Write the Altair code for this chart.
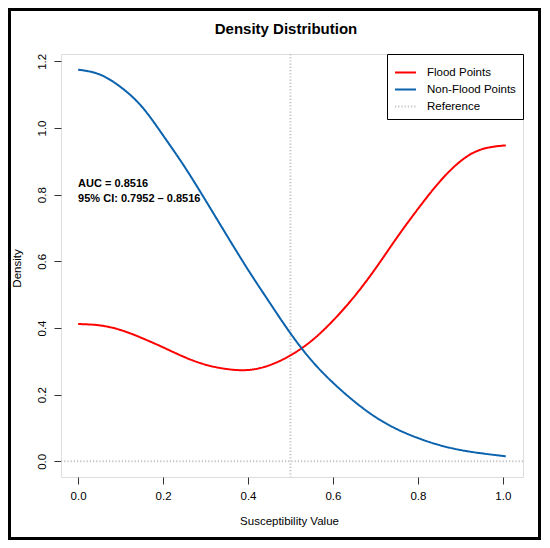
import altair as alt
import pandas as pd

# ---- data ----
x_vals = [0.0, 0.05, 0.10, 0.15, 0.20, 0.25, 0.30, 0.35, 0.40, 0.45, 0.50,
          0.55, 0.60, 0.65, 0.70, 0.75, 0.80, 0.85, 0.90, 0.95, 1.007]
flood = [0.412, 0.408, 0.394, 0.370, 0.342, 0.313, 0.290, 0.277, 0.274, 0.288, 0.318,
         0.362, 0.422, 0.494, 0.578, 0.670, 0.757, 0.837, 0.900, 0.936, 0.948]
nonflood = [1.175, 1.161, 1.123, 1.064, 0.978, 0.885, 0.783, 0.678, 0.575, 0.478, 0.384,
            0.302, 0.236, 0.180, 0.133, 0.097, 0.070, 0.049, 0.034, 0.024, 0.015]
series_names = ["Flood Points", "Non-Flood Points", "Reference"]
series_colors = ["#ff0000", "#0b62ad", "#c4c4c4"]
x_ticks = [0.0, 0.2, 0.4, 0.6, 0.8, 1.0]
y_ticks = [0.0, 0.2, 0.4, 0.6, 0.8, 1.0, 1.2]
ref_x = [0.5]
ref_y = [0.0]
ann_text = ["AUC = 0.8516", "95% CI: 0.7952 \u2013 0.8516"]
ann_x = [0.0, 0.0]
ann_y = [0.832, 0.787]

FONT = "Liberation Sans"

curves = pd.DataFrame({
    "x": x_vals + x_vals,
    "y": flood + nonflood,
    "series": [series_names[0]] * len(x_vals) + [series_names[1]] * len(x_vals),
})
vref = pd.DataFrame({"x": ref_x, "series": [series_names[2]] * len(ref_x)})
href = pd.DataFrame({"y": ref_y, "series": [series_names[2]] * len(ref_y)})
ann = pd.DataFrame({"x": ann_x, "y": ann_y, "text": ann_text})

xscale = alt.Scale(domain=[-0.0403, 1.0475], nice=False, zero=False)
yscale = alt.Scale(domain=[-0.047, 1.222], nice=False, zero=False)

xaxis = alt.Axis(values=x_ticks, format=".1f", grid=False, domain=False,
                 tickSize=7, tickColor="#333333", labelPadding=6,
                 labelFontSize=11.5, labelFont=FONT, labelColor="black",
                 labelFlush=False, labelOverlap=False,
                 title="Susceptibility Value", titleFont=FONT, titleFontSize=11.5,
                 titleFontWeight="normal", titleColor="black",
                 titleX=228, titleY=44, titleAlign="center", titleBaseline="middle")
yaxis = alt.Axis(values=y_ticks, format=".1f", grid=False, domain=False,
                 tickSize=7, tickColor="#333333", labelPadding=7,
                 labelAngle=270, labelAlign="center", labelBaseline="bottom",
                 labelFontSize=11.5, labelFont=FONT, labelColor="black",
                 labelFlush=False, labelOverlap=False,
                 title="Density", titleFont=FONT, titleFontSize=11.5,
                 titleFontWeight="normal", titleColor="black",
                 titleX=-44, titleY=214, titleAngle=270, titleAlign="center",
                 titleBaseline="middle")

legend = alt.Legend(title=None, orient="top-right", offset=0,
                    strokeColor="black", fillColor="white", padding=7,
                    labelFont=FONT, labelFontSize=11.5, labelColor="black",
                    symbolType="stroke", symbolSize=441, labelOffset=10,
                    rowPadding=0)

color = alt.Color("series:N", scale=alt.Scale(domain=series_names, range=series_colors),
                  legend=legend)
dash = alt.StrokeDash("series:N", scale=alt.Scale(domain=series_names,
                      range=[[1, 0], [1, 0], [1.2, 2]]), legend=legend)
width = alt.StrokeWidth("series:N", scale=alt.Scale(domain=series_names,
                        range=[2, 2, 1]), legend=legend)

lines = alt.Chart(curves).mark_line(interpolate="natural").encode(
    x=alt.X("x:Q", scale=xscale, axis=xaxis),
    y=alt.Y("y:Q", scale=yscale, axis=yaxis),
    color=color, strokeDash=dash, strokeWidth=width,
    detail="series:N",
)

vrule = alt.Chart(vref).mark_rule().encode(
    x=alt.X("x:Q", scale=xscale), color=color, strokeDash=dash, strokeWidth=width)
hrule = alt.Chart(href).mark_rule().encode(
    y=alt.Y("y:Q", scale=yscale), color=color, strokeDash=dash, strokeWidth=width)

text = alt.Chart(ann).mark_text(align="left", baseline="middle", fontWeight="bold",
                                fontSize=11, font=FONT, color="black").encode(
    x=alt.X("x:Q", scale=xscale), y=alt.Y("y:Q", scale=yscale), text="text:N")

frame = alt.Chart(pd.DataFrame({"k": [0]})).mark_rect(
    fill=None, stroke="black", strokeWidth=3).encode(
    x=alt.value(-51.5), x2=alt.value(478.5), y=alt.value(-44.5), y2=alt.value(484.5))

chart = alt.layer(vrule, hrule, lines, text, frame).properties(
    width=462, height=423,
    autosize=alt.AutoSizeParams(type="none"),
    padding={"left": 53, "top": 46, "right": 18, "bottom": 63},
    title=alt.TitleParams("Density Distribution", font=FONT, fontSize=15,
                          fontWeight="bold", color="black", offset=-44,
                          baseline="bottom", dx=-6, frame="group"),
).configure_view(stroke="#333333", strokeWidth=1).configure(background="white")

chart.save("out.html", embed_options={"renderer": "svg", "actions": False})
